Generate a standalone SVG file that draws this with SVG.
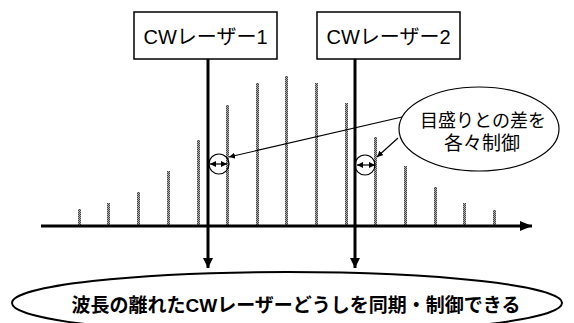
<svg xmlns="http://www.w3.org/2000/svg" width="574" height="323" viewBox="0 0 574 323">
<defs>
<pattern id="hatch" width="2" height="2" patternUnits="userSpaceOnUse">
<rect width="2" height="2" fill="#b0b0b0"/>
<rect width="1" height="1" fill="#444"/>
<rect x="1" y="1" width="1" height="1" fill="#444"/>
</pattern>
<marker id="ah" viewBox="0 0 10 10" refX="10" refY="5" markerWidth="10" markerHeight="10" markerUnits="userSpaceOnUse" orient="auto-start-reverse">
<path d="M0,0 L10,5 L0,10 z" fill="#000"/>
</marker>
<marker id="big" viewBox="0 0 12 10" refX="12" refY="5" markerWidth="12" markerHeight="10" markerUnits="userSpaceOnUse" orient="auto">
<path d="M0,0 L12,5 L0,10 z" fill="#000"/>
</marker>
<marker id="sm" viewBox="0 0 6 6" refX="6" refY="3" markerWidth="6" markerHeight="6" markerUnits="userSpaceOnUse" orient="auto-start-reverse">
<path d="M0,0 L6,3 L0,6 z" fill="#000"/>
</marker>
</defs>
<style>
.box{fill:#fff;stroke:#000;stroke-width:1.5}
.lbl{font-family:"Liberation Sans","Noto Sans CJK JP",sans-serif;fill:#000}
.bar{fill:url(#hatch)}
.thick{stroke:#000;stroke-width:3;fill:none}
.thin{stroke:#000;stroke-width:1.2;fill:none}
</style>
<g id="spectrum">
<rect class="bar" x="78" y="209" width="3" height="16"/>
<rect class="bar" x="107" y="203" width="3" height="22"/>
<rect class="bar" x="137" y="192" width="3" height="33"/>
<rect class="bar" x="167" y="171" width="3" height="54"/>
<rect class="bar" x="197" y="140" width="3" height="85"/>
<rect class="bar" x="226" y="105" width="3" height="120"/>
<rect class="bar" x="256" y="83" width="3" height="142"/>
<rect class="bar" x="285" y="76" width="3" height="149"/>
<rect class="bar" x="315" y="83" width="3" height="142"/>
<rect class="bar" x="345" y="103" width="3" height="122"/>
<rect class="bar" x="374" y="137" width="3" height="88"/>
<rect class="bar" x="404" y="166" width="3" height="59"/>
<rect class="bar" x="434" y="187" width="3" height="38"/>
<rect class="bar" x="463" y="203" width="3" height="22"/>
<rect class="bar" x="493" y="210" width="3" height="15"/>
</g>
<g id="connectors">
<line class="thick" x1="41" y1="226" x2="532" y2="226" marker-end="url(#big)"/>
<line class="thick" x1="208" y1="59" x2="208" y2="268" marker-end="url(#ah)"/>
<line class="thick" x1="355" y1="59" x2="355" y2="268" marker-end="url(#ah)"/>
<line class="thin" x1="402" y1="117" x2="229" y2="157" marker-end="url(#sm)"/>
<line class="thin" x1="398" y1="138" x2="377" y2="157" marker-end="url(#sm)"/>
<line class="thin" x1="210" y1="164" x2="227" y2="164" marker-start="url(#sm)" marker-end="url(#sm)"/>
<line class="thin" x1="357" y1="165" x2="375" y2="165" marker-start="url(#sm)" marker-end="url(#sm)"/>
<circle class="thin" cx="219" cy="164" r="10"/>
<circle class="thin" cx="365" cy="165" r="10"/>
</g>
<g id="laser1">
<rect class="box" x="134" y="12" width="143" height="47"/>
<text class="lbl" x="205.5" y="44" font-size="20" text-anchor="middle">CWレーザー1</text>
</g>
<g id="laser2">
<rect class="box" x="317" y="12" width="143" height="47"/>
<text class="lbl" x="388.5" y="44" font-size="20" text-anchor="middle">CWレーザー2</text>
</g>
<g id="callout">
<ellipse class="thin" cx="479" cy="129" rx="80" ry="42" fill="#fff"/>
<text class="lbl" x="483" y="127" font-size="18" text-anchor="middle">目盛りとの差を</text>
<text class="lbl" x="482" y="150" font-size="19" text-anchor="middle">各々制御</text>
</g>
<g id="result">
<ellipse cx="287" cy="303" rx="275" ry="31" fill="#fff" stroke="#000" stroke-width="2"/>
<text class="lbl" x="296" y="312" font-size="19" font-weight="bold" text-anchor="middle">波長の離れたCWレーザーどうしを同期・制御できる</text>
</g>
</svg>
